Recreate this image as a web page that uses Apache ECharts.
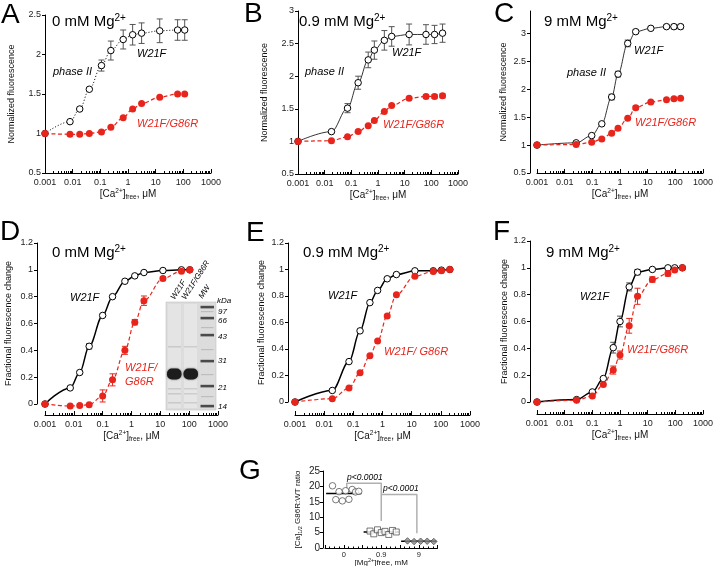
<!DOCTYPE html>
<html><head><meta charset="utf-8">
<script src="https://cdn.jsdelivr.net/npm/echarts@6/dist/echarts.min.js"></script>
<style>html,body{margin:0;padding:0;background:#fff}#c{width:713px;height:566px}</style>
</head><body><div id="c"></div>
<script>
// ---------- DATA ----------
// Panel A (0 mM Mg2+), normalized fluorescence
const aCa = [0.001, 0.008, 0.018, 0.04, 0.11, 0.24, 0.67, 1.47, 3.1, 14, 62, 112];
const aWT = [1.0, 1.15, 1.31, 1.56, 1.86, 2.05, 2.19, 2.25, 2.27, 2.30, 2.31, 2.31];
const aWTerr = [0, 0, 0, 0, 0.07, 0.12, 0.12, 0.13, 0.13, 0.15, 0.13, 0.13];
const aMut = [1.0, 0.99, 0.99, 1.0, 1.02, 1.08, 1.2, 1.31, 1.38, 1.46, 1.5, 1.5];
const aMutErr = [0, 0, 0, 0, 0, 0, 0, 0, 0, 0, 0, 0];
// Panel B (0.9 mM Mg2+)
const bCa = [0.001, 0.018, 0.072, 0.18, 0.43, 0.73, 1.73, 3.26, 14.7, 63, 132, 263];
const bWT = [1.0, 1.15, 1.51, 1.90, 2.25, 2.40, 2.55, 2.61, 2.64, 2.64, 2.64, 2.66];
const bWTerr = [0, 0, 0.07, 0.1, 0.12, 0.14, 0.15, 0.15, 0.16, 0.15, 0.14, 0.14];
const bMut = [1.0, 1.01, 1.07, 1.15, 1.24, 1.32, 1.46, 1.55, 1.66, 1.69, 1.69, 1.70];
const bMutErr = [0, 0, 0, 0, 0, 0, 0, 0, 0, 0.03, 0.03, 0.03];
// Panel C (9 mM Mg2+)
const cCa = [0.001, 0.026, 0.095, 0.22, 0.5, 0.85, 1.9, 3.7, 13, 48, 89, 155];
const cWT = [1.0, 1.04, 1.17, 1.38, 1.86, 2.27, 2.82, 3.03, 3.09, 3.12, 3.12, 3.12];
const cWTerr = [0, 0, 0, 0, 0.05, 0.05, 0.06, 0.03, 0.03, 0.03, 0.04, 0.04];
const cMut = [1.0, 1.01, 1.05, 1.11, 1.21, 1.30, 1.48, 1.67, 1.77, 1.81, 1.83, 1.84];
const cMutErr = [0, 0, 0, 0, 0, 0, 0, 0.03, 0, 0, 0, 0];
// Panel D (0 mM Mg2+), fractional change
const dCa = [0.001, 0.0075, 0.016, 0.034, 0.1, 0.22, 0.59, 1.3, 2.7, 12.3, 54, 105];
const dWT = [0, 0.12, 0.235, 0.43, 0.66, 0.80, 0.915, 0.955, 0.98, 0.995, 1.0, 1.0];
const dWTerr = [0, 0, 0, 0.02, 0, 0, 0, 0, 0, 0, 0, 0];
const dMut = [0, -0.015, -0.012, -0.005, 0.06, 0.18, 0.40, 0.61, 0.77, 0.935, 0.99, 1.0];
const dMutErr = [0, 0, 0, 0, 0.045, 0.045, 0.03, 0.02, 0.035, 0.015, 0, 0];
// Panel E (0.9 mM Mg2+)
const eCa = [0.001, 0.019, 0.071, 0.17, 0.37, 0.68, 1.45, 3.0, 12.9, 55, 105, 204];
const eWT = [0, 0.087, 0.305, 0.537, 0.75, 0.842, 0.93, 0.962, 0.99, 0.99, 0.995, 1.0];
const eWTerr = [0, 0, 0, 0, 0, 0, 0, 0, 0, 0, 0, 0];
const eMut = [0, 0.025, 0.105, 0.22, 0.35, 0.46, 0.65, 0.81, 0.95, 0.985, 0.99, 1.0];
const eMutErr = [0, 0, 0, 0, 0, 0, 0, 0, 0, 0, 0, 0];
// Panel F (9 mM Mg2+)
const fCa = [0.001, 0.027, 0.10, 0.25, 0.57, 1.0, 2.15, 4.3, 14.8, 54, 95, 180];
const fWT = [0, 0.018, 0.075, 0.175, 0.405, 0.60, 0.858, 0.968, 0.988, 1.0, 1.0, 1.0];
const fWTerr = [0, 0, 0, 0, 0.04, 0.04, 0.03, 0.02, 0, 0, 0, 0];
const fMut = [0, 0.013, 0.045, 0.13, 0.238, 0.35, 0.568, 0.788, 0.913, 0.958, 0.983, 1.0];
const fMutErr = [0, 0, 0, 0, 0.03, 0.03, 0.055, 0.06, 0.02, 0.02, 0, 0];
// Panel G: [Ca]1/2 G86R:WT ratio per Mg2+ condition
const gMgLabels = ['0', '0.9', '9'];
const g0 = [20.2, 15.7, 18.3, 15.3, 18.6, 15.8, 19.0, 18.2, 18.4];
const g09 = [5.5, 4.6, 5.9, 5.0, 5.4, 4.4, 5.7, 5.2];
const g9 = [2.3, 2.1, 2.2, 2.2, 2.1];
const gBracket1 = [[0.08, 19.3], [0.08, 21], [1, 21], [1, 8.8]];
const gBracket2 = [[1, 17.4], [1.95, 17.4], [1.95, 4.8]];
const pText = ['p<0.0001', 'p<0.0001'];
const gelKDa = ['97', '66', '43', '31', '21', '14'];

// ---------- STYLE / LAYOUT ----------
const RED = '#e8251c';
const FF = 'Liberation Sans, Arial, sans-serif';
const grids = [
  {left: 45, top: 15, width: 166, height: 158},
  {left: 298, top: 11, width: 160, height: 163},
  {left: 537, top: 11, width: 166, height: 162},
  {left: 45, top: 243, width: 173, height: 161},
  {left: 295, top: 243, width: 175, height: 159},
  {left: 537, top: 241, width: 166, height: 161},
  {left: 325, top: 471, width: 112.5, height: 77}
].map(g => Object.assign({outerBoundsMode: 'none', containLabel: false}, g));

const caName = '[Ca{sup|2+}]{sub|free}, μM';
const nameRich = {
  sup: {fontSize: 6.5, fontFamily: FF, color: '#111', padding: [0, 0, 6, 0]},
  sub: {fontSize: 6.5, fontFamily: FF, color: '#111', padding: [6, 0, 0, 0]}
};
function fmtLog(v) {
  const e = Math.round(Math.log10(v));
  return e < 0 ? Math.pow(10, e).toFixed(-e) : String(Math.round(Math.pow(10, e)));
}
function logX(gi, off, gap) {
  return {
    type: 'log', logBase: 10, gridIndex: gi, min: 0.001, max: 1000, offset: off,
    axisLine: {onZero: false, lineStyle: {color: '#000', width: 1}},
    axisTick: {inside: true, length: 4, lineStyle: {color: '#000'}},
    minorTick: {show: true, splitNumber: 9, length: 2, lineStyle: {color: '#000'}},
    splitLine: {show: false}, minorSplitLine: {show: false},
    axisLabel: {fontSize: 9, color: '#222', margin: 5, fontFamily: FF, formatter: fmtLog},
    name: caName, nameLocation: 'middle', nameGap: gap,
    nameTextStyle: {fontSize: 10, fontFamily: FF, color: '#111', rich: nameRich}
  };
}
function valY(gi, min, max, interval, off, name, gap, extra) {
  return Object.assign({
    type: 'value', gridIndex: gi, min, max, interval, offset: off,
    axisLine: {show: true, onZero: false, lineStyle: {color: '#000', width: 1}},
    axisTick: {show: true, inside: false, length: 3, lineStyle: {color: '#000'}},
    splitLine: {show: false},
    axisLabel: {fontSize: 9, color: '#222', margin: 4, fontFamily: FF},
    name, nameLocation: 'middle', nameGap: gap,
    nameTextStyle: {fontSize: 9, fontFamily: FF, color: '#111'}
  }, extra || {});
}

function curve(gi, xs, ys, isWT, lineType, width) {
  return {
    type: 'line', xAxisIndex: gi, yAxisIndex: gi, clip: false,
    data: xs.map((x, i) => [x, ys[i]]),
    smooth: 0.35, smoothMonotone: 'x', showAllSymbol: true,
    symbol: 'circle', symbolSize: isWT ? 6.5 : 7,
    itemStyle: isWT ? {color: '#fff', borderColor: '#000', borderWidth: 1} : {color: RED, borderWidth: 0},
    lineStyle: {color: isWT ? '#000' : RED, width: width, type: lineType},
    z: isWT ? 4 : 6, silent: true
  };
}
function errBars(gi, xs, ys, es, color, z) {
  const data = [];
  xs.forEach((x, i) => { if (es[i] > 0) data.push([x, ys[i] - es[i], ys[i] + es[i]]); });
  return {
    type: 'custom', xAxisIndex: gi, yAxisIndex: gi, z: z, silent: true, clip: false,
    data, encode: {x: 0, y: [1, 2]},
    renderItem: (p, api) => {
      const x = api.value(0);
      const a = api.coord([x, api.value(2)]), b = api.coord([x, api.value(1)]);
      const w = 3, st = {stroke: color, lineWidth: 1};
      return {type: 'group', children: [
        {type: 'line', shape: {x1: a[0], y1: a[1], x2: b[0], y2: b[1]}, style: st},
        {type: 'line', shape: {x1: a[0] - w, y1: a[1], x2: a[0] + w, y2: a[1]}, style: st},
        {type: 'line', shape: {x1: b[0] - w, y1: b[1], x2: b[0] + w, y2: b[1]}, style: st}
      ]};
    }
  };
}

const panels = [
  {ca: aCa, wt: aWT, we: aWTerr, mu: aMut, me: aMutErr, wtType: [1, 2], wtW: 1, muW: 1.2},
  {ca: bCa, wt: bWT, we: bWTerr, mu: bMut, me: bMutErr, wtType: 'solid', wtW: 0.8, muW: 1.2},
  {ca: cCa, wt: cWT, we: cWTerr, mu: cMut, me: cMutErr, wtType: 'solid', wtW: 0.8, muW: 1.2},
  {ca: dCa, wt: dWT, we: dWTerr, mu: dMut, me: dMutErr, wtType: 'solid', wtW: 1.5, muW: 1.2},
  {ca: eCa, wt: eWT, we: eWTerr, mu: eMut, me: eMutErr, wtType: 'solid', wtW: 1.5, muW: 1.2},
  {ca: fCa, wt: fWT, we: fWTerr, mu: fMut, me: fMutErr, wtType: 'solid', wtW: 1.5, muW: 1.2}
];

const xAxes = [logX(0, 0, 14), logX(1, 0, 14), logX(2, 0, 14), logX(3, 11, 14), logX(4, 13, 12), logX(5, 12, 13)];
const fracName = 'Fractional fluorescence change', normName = 'Normalized fluorescence';
const yAxes = [
  valY(0, 0.5, 2.5, 0.5, 0, normName, 29),
  valY(1, 0.5, 3, 0.5, 0, normName, 29),
  valY(2, 0.5, 3.4, 0.5, 7, normName, 22, {axisLabel: {fontSize: 9, color: '#222', margin: 4, fontFamily: FF, showMaxLabel: false}}),
  valY(3, 0, 1.2, 0.2, 8, fracName, 24),
  valY(4, 0, 1.2, 0.2, 7, fracName, 22),
  valY(5, 0, 1.2, 0.2, 7, fracName, 21)
];
// Panel G axes
xAxes.push({
  type: 'value', gridIndex: 6, min: -0.5, max: 2.5, interval: 0.5,
  axisLine: {onZero: false, lineStyle: {color: '#000'}},
  axisTick: {inside: true, length: 3, lineStyle: {color: '#000'}},
  minorTick: {show: true, splitNumber: 4, length: 1.5, lineStyle: {color: '#000'}},
  splitLine: {show: false},
  axisLabel: {fontSize: 7.5, color: '#222', margin: 3, fontFamily: FF,
    formatter: v => (Math.abs(v - Math.round(v)) < 1e-6 && gMgLabels[Math.round(v)] !== undefined) ? gMgLabels[Math.round(v)] : ''},
  name: '[Mg{sup|2+}]free, mM', nameLocation: 'middle', nameGap: 9, nameMoveOverlap: false,
  nameTextStyle: {fontSize: 8, fontFamily: FF, color: '#111', rich: {sup: {fontSize: 5.5, fontFamily: FF, color: '#111', padding: [0, 0, 5, 0]}}}
});
yAxes.push(valY(6, 0, 25, 5, 2, '[Ca]{sub|1/2} G86R:WT ratio', 20, {
  axisLabel: {fontSize: 10, color: '#222', margin: 3, fontFamily: FF},
  nameTextStyle: {fontSize: 8, fontFamily: FF, color: '#111', rich: {sub: {fontSize: 5.5, fontFamily: FF, color: '#111', padding: [5, 0, 0, 0]}}}
}));

const series = [];
panels.forEach((p, gi) => {
  series.push(errBars(gi, p.ca, p.wt, p.we, '#555', 3));
  series.push(curve(gi, p.ca, p.wt, true, p.wtType, p.wtW));
  series.push(errBars(gi, p.ca, p.mu, p.me, RED, 5));
  series.push(curve(gi, p.ca, p.mu, false, [4, 2.5], p.muW));
});

// Panel G series
function jitter(vals, g) {
  const n = vals.length;
  return vals.map((v, j) => [g + 0.05 + (j / (n - 1) - 0.5) * 0.7, v]);
}
function mean(a) { return a.reduce((s, v) => s + v, 0) / a.length; }
const gGroups = [g0, g09, g9];
const gSym = ['circle', 'rect', 'diamond'];
const gFill = ['#fff', '#fff', '#8a8a8a'];
gGroups.forEach((vals, g) => {
  const m = mean(vals);
  series.push({type: 'line', xAxisIndex: 6, yAxisIndex: 6, data: [[g - 0.47, m], [g + 0.47, m]],
    symbol: 'none', lineStyle: {color: '#000', width: 1.5}, z: 3, silent: true});
  series.push({type: 'scatter', xAxisIndex: 6, yAxisIndex: 6, data: jitter(vals, g),
    symbol: gSym[g], symbolSize: g === 1 ? 6 : 6.5,
    itemStyle: {color: gFill[g], borderColor: '#444', borderWidth: 0.9}, z: 4, silent: true});
});
[gBracket1, gBracket2].forEach(b => series.push({type: 'line', xAxisIndex: 6, yAxisIndex: 6, data: b,
  symbol: 'none', lineStyle: {color: '#b0b0b0', width: 1.5}, z: 2, silent: true}));

// ---------- TEXT / INSET GRAPHICS ----------
const G = [];
function txt(x, y, text, o) {
  G.push({type: 'text', x, y, silent: true, z: 50, rotation: (o && o.rot) || 0,
    style: Object.assign({text, fill: '#000', fontFamily: FF, fontSize: 11, align: 'left', verticalAlign: 'middle'}, o && o.style)});
}
const letterStyle = {fontSize: 28};
[['A', 1, 15], ['B', 244, 14], ['C', 494, 14], ['D', 0, 232], ['E', 246, 233], ['F', 493, 232], ['G', 239, 471]]
  .forEach(l => txt(l[1], l[2], l[0], {style: letterStyle}));
const titleRich = {b: {fontSize: 15, fontFamily: FF, fill: '#000'}, s: {fontSize: 10, fontFamily: FF, fill: '#000', padding: [0, 0, 8, 0]}};
[['0 mM Mg', 52, 22], ['0.9 mM Mg', 299, 22], ['9 mM Mg', 544, 22], ['0 mM Mg', 52, 253], ['0.9 mM Mg', 303, 253], ['9 mM Mg', 546, 253]]
  .forEach(t => txt(t[1], t[2], '{b|' + t[0] + '}{s|2+}', {style: {rich: titleRich}}));
const it = {fontStyle: 'italic', fontSize: 11};
const itR = {fontStyle: 'italic', fontSize: 11, fill: RED};
txt(53, 72, 'phase II', {style: it}); txt(137, 54, 'W21F', {style: it}); txt(137, 124, 'W21F/G86R', {style: itR});
txt(305, 72, 'phase II', {style: it}); txt(392, 53, 'W21F', {style: it}); txt(383, 125, 'W21F/G86R', {style: itR});
txt(567, 73, 'phase II', {style: it}); txt(634, 51, 'W21F', {style: it}); txt(635, 123, 'W21F/G86R', {style: itR});
txt(70, 298, 'W21F', {style: it}); txt(125, 368, 'W21F/', {style: itR}); txt(125, 382, 'G86R', {style: itR});
txt(328, 296, 'W21F', {style: it}); txt(384, 352, 'W21F/ G86R', {style: itR});
txt(580, 297, 'W21F', {style: it}); txt(627, 350, 'W21F/G86R', {style: itR});
// p-values (panel G)
txt(347, 478, pText[0], {style: {fontStyle: 'italic', fontSize: 8.5}});
txt(383, 489, pText[1], {style: {fontStyle: 'italic', fontSize: 8.5}});

// Gel inset (panel D)
function rect(x, y, w, h, fill, extra) {
  G.push(Object.assign({type: 'rect', silent: true, z: 40, shape: {x, y, width: w, height: h, r: (extra && extra.r) || 0},
    style: Object.assign({fill}, extra && extra.style)}));
}
rect(166, 302, 50, 108, '#dcdcdc', {style: {stroke: '#c4c4c4', lineWidth: 0.6}});
rect(168, 304, 13, 104, '#e4e4e4'); rect(184, 304, 13, 104, '#e6e6e6');
[388, 393, 402, 346].forEach(y => { rect(168, y, 13, 1.5, '#c9c9c9'); rect(184, y, 13, 1.5, '#cdcdcd'); });
rect(167, 368.5, 14.5, 11, '#1c1c1c', {r: 5, style: {shadowBlur: 2, shadowColor: '#666'}});
rect(183.5, 368.5, 14.5, 11, '#1c1c1c', {r: 5, style: {shadowBlur: 2, shadowColor: '#666'}});
[307, 318, 335, 361, 386, 406].forEach(y => rect(200.5, y - 1.2, 13.5, 2.6, '#4a4a4a'));
[311, 327, 349, 374, 396].forEach(y => rect(201, y, 12.5, 1.2, '#bdbdbd'));
const kY = [311.5, 321, 336.5, 361, 388, 406.5];
txt(217, 301, 'kDa', {style: {fontStyle: 'italic', fontSize: 8}});
gelKDa.forEach((k, i) => txt(218, kY[i], k, {style: {fontStyle: 'italic', fontSize: 8}}));
const rot = 57 * Math.PI / 180;
txt(176, 301, 'W21F', {rot, style: {fontStyle: 'italic', fontSize: 8, verticalAlign: 'bottom'}});
txt(187, 301, 'W21F/G86R', {rot, style: {fontStyle: 'italic', fontSize: 8, verticalAlign: 'bottom'}});
txt(204, 300, 'MW', {rot, style: {fontStyle: 'italic', fontSize: 8, verticalAlign: 'bottom'}});

const chart = echarts.init(document.getElementById('c'), null, {renderer: 'canvas'});
chart.setOption({
  animation: false, backgroundColor: '#fff',
  grid: grids, xAxis: xAxes, yAxis: yAxes, series, graphic: {elements: G}
});
</script></body></html>
